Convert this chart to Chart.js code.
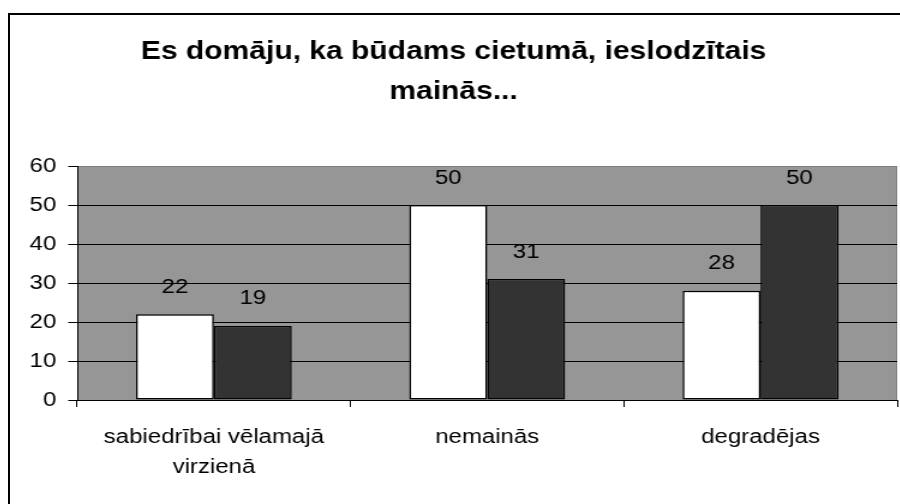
<!DOCTYPE html>
<html>
<head>
<meta charset="utf-8">
<script src="https://cdn.jsdelivr.net/npm/chart.js@4"></script>
<style>
  html, body { margin: 0; padding: 0; background: #fff; overflow: hidden; }
  #frame {
    position: absolute; left: 8px; top: 13px;
    border-left: 2px solid #000; border-top: 2px solid #000;
  }
</style>
</head>
<body>
<div id="frame">
  <!-- canvas is drawn narrow and stretched sideways, like the original picture -->
  <canvas id="chart" width="778" height="520" style="display:block;width:934px;height:520px"></canvas>
</div>
<script>
const titleLines = ['Es domāju, ka būdams cietumā, ieslodzītais', 'mainās...'];
const categories = [['sabiedrībai vēlamajā', 'virzienā'], 'nemainās', 'degradējas'];
const seriesA = [22, 50, 28];
const seriesB = [19, 31, 50];
const yTicks = [0, 10, 20, 30, 40, 50, 60];

const FONT = '"Liberation Sans", Arial, sans-serif';

// grey plot background with a thin darker frame
const plotBackground = {
    id: 'plotBackground',
    beforeDraw(chart) {
        const { ctx, chartArea: a } = chart;
        ctx.save();
        ctx.fillStyle = '#969696';
        ctx.fillRect(a.left, a.top, a.right - a.left, a.bottom - a.top);
        ctx.strokeStyle = '#808080';
        ctx.lineWidth = 1;
        ctx.strokeRect(a.left + 0.5, a.top + 0.5, a.right - a.left - 1, a.bottom - a.top);
        ctx.restore();
    }
};

// value labels above every bar
const valueLabels = {
    id: 'valueLabels',
    afterDatasetsDraw(chart) {
        const ctx = chart.ctx;
        ctx.save();
        ctx.font = '20px ' + FONT;
        ctx.fillStyle = '#000';
        ctx.textAlign = 'center';
        ctx.textBaseline = 'middle';
        chart.data.datasets.forEach((ds, i) => {
            chart.getDatasetMeta(i).data.forEach((bar, j) => {
                ctx.fillText(ds.data[j], bar.x, bar.y - 27);
            });
        });
        ctx.restore();
    }
};

new Chart(document.getElementById('chart'), {
    type: 'bar',
    data: {
        labels: categories,
        datasets: [
            { data: seriesA, backgroundColor: '#ffffff', borderColor: '#000', borderWidth: 1.5, borderSkipped: false },
            { data: seriesB, backgroundColor: '#333333', borderColor: '#000', borderWidth: 1.5, borderSkipped: false }
        ]
    },
    options: {
        responsive: false,
        devicePixelRatio: 1,
        animation: false,
        layout: { padding: { left: 0, right: 39, top: 0, bottom: 53 } },
        datasets: { bar: { categoryPercentage: 0.57, barPercentage: 1 } },
        plugins: {
            legend: { display: false },
            tooltip: { enabled: false },
            title: {
                display: true,
                text: titleLines,
                color: '#000',
                font: { family: FONT, size: 25, weight: 'bold', lineHeight: 1.6 },
                padding: { top: 17, bottom: 54 }
            }
        },
        scales: {
            x: {
                offset: true,
                grid: { offset: true, drawOnChartArea: false, drawTicks: true, tickLength: 7, color: '#000' },
                border: { color: '#000', width: 1 },
                ticks: { color: '#000', padding: 15, font: { family: FONT, size: 20, lineHeight: 1.5 } },
                afterFit(scale) { scale.height = 82; }
            },
            y: {
                min: 0,
                max: 60,
                afterBuildTicks(scale) { scale.ticks = yTicks.map(v => ({ value: v })); },
                grid: {
                    color: c => (c.tick && c.tick.value === 60 ? '#808080' : '#000'),
                    tickColor: '#000',
                    tickLength: 7.5,
                    lineWidth: 1
                },
                border: { color: '#000', width: 1 },
                ticks: { color: '#000', padding: 10, font: { family: FONT, size: 20 } },
                afterFit(scale) { scale.width = 56; }
            }
        }
    },
    plugins: [plotBackground, valueLabels]
});
</script>
</body>
</html>
